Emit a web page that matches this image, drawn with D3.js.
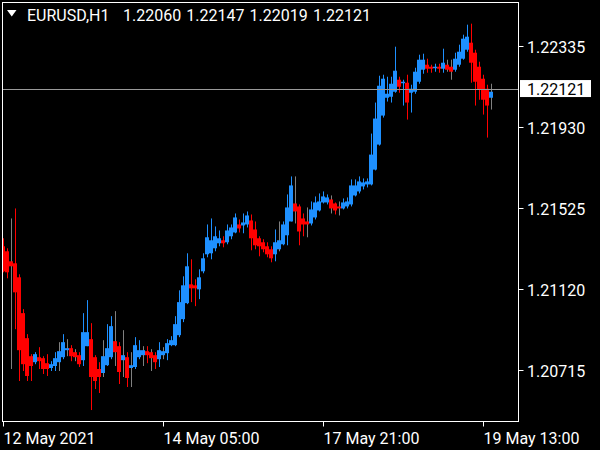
<!DOCTYPE html>
<html><head><meta charset="utf-8">
<script src="https://cdn.jsdelivr.net/npm/d3@7"></script>
<style>html,body{margin:0;padding:0;background:#000;}svg{display:block;}</style>
</head><body>
<script>
const opens = [1.21333,1.21308,1.21258,1.21248,1.21178,1.20999,1.20874,1.20784,1.20754,1.20779,
1.20774,1.20749,1.20725,1.20735,1.20754,1.20779,1.20814,1.20824,1.20804,1.20789,
1.20764,1.20834,1.20869,1.20779,1.20720,1.20700,1.20739,1.20779,1.20859,1.20834,
1.20764,1.20779,1.20725,1.20730,1.20779,1.20789,1.20809,1.20804,1.20789,1.20769,
1.20789,1.20799,1.20839,1.20839,1.20889,1.20969,1.21049,1.21143,1.21138,1.21118,
1.21208,1.21293,1.21298,1.21323,1.21348,1.21363,1.21353,1.21383,1.21402,1.21442,
1.21437,1.21442,1.21462,1.21417,1.21373,1.21353,1.21333,1.21318,1.21293,1.21318,
1.21343,1.21388,1.21457,1.21547,1.21532,1.21472,1.21457,1.21447,1.21477,1.21512,
1.21552,1.21552,1.21567,1.21547,1.21532,1.21522,1.21532,1.21542,1.21587,1.21607,
1.21632,1.21642,1.21642,1.21716,1.21841,1.21986,1.22075,1.22080,1.22105,1.22165,
1.22150,1.22150,1.22100,1.22105,1.22155,1.22215,1.22240,1.22230,1.22225,1.22230,
1.22220,1.22240,1.22230,1.22215,1.22240,1.22270,1.22315,1.22350,1.22300,1.22230,
1.22170,1.22120,1.22075];
const closes = [1.21208,1.21203,1.21233,1.21103,1.20814,1.20744,1.20685,1.20735,1.20794,1.20759,
1.20720,1.20720,1.20744,1.20774,1.20809,1.20854,1.20824,1.20784,1.20779,1.20744,
1.20904,1.20904,1.20680,1.20660,1.20680,1.20784,1.20824,1.20934,1.20804,1.20705,
1.20789,1.20675,1.20739,1.20839,1.20814,1.20814,1.20789,1.20774,1.20754,1.20814,
1.20809,1.20849,1.20864,1.20944,1.21054,1.21138,1.21233,1.21123,1.21123,1.21178,
1.21273,1.21378,1.21363,1.21383,1.21373,1.21348,1.21412,1.21427,1.21477,1.21422,
1.21452,1.21487,1.21373,1.21338,1.21333,1.21318,1.21293,1.21273,1.21353,1.21363,
1.21442,1.21527,1.21637,1.21507,1.21407,1.21442,1.21442,1.21517,1.21552,1.21557,
1.21582,1.21577,1.21522,1.21512,1.21522,1.21552,1.21557,1.21637,1.21637,1.21657,
1.21652,1.21657,1.21791,1.21971,1.22135,1.22170,1.22095,1.22145,1.22210,1.22130,
1.22155,1.22051,1.22120,1.22205,1.22265,1.22265,1.22220,1.22220,1.22230,1.22220,
1.22250,1.22215,1.22205,1.22270,1.22305,1.22370,1.22380,1.22250,1.22155,1.22115,
1.22065,1.22036,1.22105];
const highs = [1.21373,1.21323,1.21472,1.21522,1.21193,1.21019,1.20894,1.20794,1.20804,1.20829,
1.20784,1.20794,1.20759,1.20804,1.20854,1.20894,1.20869,1.20839,1.20819,1.20804,
1.20999,1.21064,1.20949,1.20789,1.20754,1.20864,1.20944,1.20984,1.21009,1.20854,
1.20914,1.20804,1.20804,1.20879,1.20864,1.20834,1.20834,1.20819,1.20804,1.20854,
1.20829,1.20869,1.20884,1.20984,1.21113,1.21183,1.21298,1.21268,1.21168,1.21218,
1.21298,1.21442,1.21472,1.21432,1.21412,1.21383,1.21442,1.21442,1.21497,1.21467,
1.21497,1.21507,1.21492,1.21457,1.21383,1.21368,1.21353,1.21333,1.21417,1.21457,
1.21457,1.21592,1.21682,1.21682,1.21542,1.21497,1.21527,1.21557,1.21582,1.21597,
1.21607,1.21592,1.21587,1.21552,1.21557,1.21572,1.21577,1.21667,1.21667,1.21682,
1.21672,1.21672,1.21896,1.22051,1.22185,1.22190,1.22180,1.22180,1.22330,1.22180,
1.22165,1.22190,1.22140,1.22225,1.22290,1.22295,1.22270,1.22240,1.22245,1.22245,
1.22320,1.22265,1.22265,1.22300,1.22340,1.22390,1.22440,1.22445,1.22315,1.22255,
1.22190,1.22140,1.22145];
const lows = [1.21203,1.21173,1.20720,1.20919,1.20660,1.20710,1.20660,1.20660,1.20744,1.20720,
1.20695,1.20685,1.20710,1.20710,1.20710,1.20769,1.20784,1.20759,1.20759,1.20730,
1.20735,1.20834,1.20515,1.20620,1.20600,1.20680,1.20735,1.20769,1.20735,1.20645,
1.20680,1.20630,1.20630,1.20720,1.20769,1.20735,1.20749,1.20710,1.20720,1.20730,
1.20769,1.20764,1.20834,1.20834,1.20879,1.20954,1.21044,1.21054,1.21034,1.21069,
1.21198,1.21278,1.21268,1.21308,1.21333,1.21328,1.21343,1.21368,1.21398,1.21402,
1.21398,1.21427,1.21313,1.21318,1.21283,1.21303,1.21278,1.21253,1.21258,1.21308,
1.21338,1.21338,1.21457,1.21447,1.21338,1.21383,1.21378,1.21437,1.21467,1.21507,
1.21547,1.21542,1.21497,1.21492,1.21487,1.21517,1.21522,1.21532,1.21582,1.21597,
1.21617,1.21627,1.21637,1.21712,1.21836,1.21976,1.22056,1.22051,1.22100,1.22100,
1.22036,1.21966,1.22001,1.22095,1.22145,1.22195,1.22200,1.22200,1.22205,1.22200,
1.22200,1.22205,1.22165,1.22205,1.22230,1.22265,1.22305,1.22150,1.22036,1.22065,
1.21991,1.21876,1.22016];
// bars whose thin high-low line shows the neutral (underlying bar) colour
const neutralWickBars = [2,14,16,18,25,28,30,32,35,37,40,69,73,76,82,84,111,112,122];
const priceTicks = [1.22335, 1.21930, 1.21525, 1.21120, 1.20715];
const timeLabels = ["12 May 2021", "14 May 05:00", "17 May 21:00", "19 May 13:00"];
const timeLabelIdx = [0, 40, 80, 120];
const symbol = "EURUSD,H1";
const ohlcHeader = ["1.22060", "1.22147", "1.22019", "1.22121"];
const bidPrice = 1.22121;

const W = 600, H = 450;
const plot = {x0: 2.5, y0: 2.5, x1: 518.5, y1: 421.5};
const BLUE = "#1E90FF", RED = "#FF0000", GRAY = "#808080";
const FONT = "Roboto, 'Liberation Sans', sans-serif";

const neutral = new Set(neutralWickBars);
const bars = opens.map((o, i) => ({i, o, c: closes[i], h: highs[i], l: lows[i]}));

const x = d3.scaleLinear().domain([0, 120]).range([3, 483]);
const y = d3.scaleLinear().domain([1.20715, 1.22335]).range([370, 45.7]);
const step = x(1) - x(0);

const svg = d3.select("body").append("svg").attr("width", W).attr("height", H);
svg.append("rect").attr("width", W).attr("height", H).attr("fill", "#000");

svg.append("defs").append("clipPath").attr("id", "clip")
  .append("rect").attr("x", plot.x0 + 0.5).attr("y", plot.y0 + 0.5)
  .attr("width", plot.x1 - plot.x0 - 1).attr("height", plot.y1 - plot.y0 - 1);

const g = svg.append("g").attr("clip-path", "url(#clip)");
const col = d => d.c >= d.o ? BLUE : RED;

g.selectAll("line.wick").data(bars).join("line")
  .attr("class", "wick")
  .attr("x1", d => Math.round(x(d.i)) + 0.5).attr("x2", d => Math.round(x(d.i)) + 0.5)
  .attr("y1", d => y(d.h)).attr("y2", d => y(d.l))
  .attr("stroke", d => neutral.has(d.i) ? GRAY : col(d)).attr("stroke-width", 1);

g.selectAll("rect.body").data(bars).join("rect")
  .attr("class", "body")
  .attr("x", d => x(d.i) - step / 2).attr("width", step)
  .attr("y", d => Math.min(y(d.o), y(d.c)))
  .attr("height", d => Math.max(1.5, Math.abs(y(d.o) - y(d.c))))
  .attr("fill", col);

// bid line
g.append("line").attr("x1", plot.x0).attr("x2", plot.x1)
  .attr("y1", Math.round(y(bidPrice)) + 0.5).attr("y2", Math.round(y(bidPrice)) + 0.5)
  .attr("stroke", "#9a9a9a").attr("stroke-width", 1);

// frame
svg.append("rect").attr("x", plot.x0).attr("y", plot.y0)
  .attr("width", plot.x1 - plot.x0).attr("height", plot.y1 - plot.y0)
  .attr("fill", "none").attr("stroke", "#fff").attr("stroke-width", 1);

// price axis
const ya = svg.append("g");
priceTicks.forEach(p => {
  const yy = Math.round(y(p)) + 0.5;
  ya.append("line").attr("x1", plot.x1).attr("x2", plot.x1 + 5).attr("y1", yy).attr("y2", yy)
    .attr("stroke", "#fff");
  ya.append("text").attr("x", 527).attr("y", yy + 6).attr("fill", "#fff")
    .attr("font-family", FONT).attr("font-size", 16).text(p.toFixed(5));
});

// bid label
const by = y(bidPrice);
svg.append("rect").attr("x", 520).attr("y", by - 8.5).attr("width", 71).attr("height", 17).attr("fill", "#fff");
svg.append("text").attr("x", 527).attr("y", by + 6).attr("fill", "#000")
  .attr("font-family", FONT).attr("font-size", 16).text(bidPrice.toFixed(5));

// time axis
timeLabelIdx.forEach((idx, k) => {
  const xx = Math.round(x(idx)) + 0.5;
  svg.append("line").attr("x1", xx).attr("x2", xx).attr("y1", plot.y1).attr("y2", plot.y1 + 5)
    .attr("stroke", "#fff");
  svg.append("text").attr("x", xx).attr("y", 443.5).attr("fill", "#fff")
    .attr("font-family", FONT).attr("font-size", 16).text(timeLabels[k]);
});

// header
svg.append("path").attr("d", "M7,10 L16.5,10 L11.75,16.5 Z").attr("fill", "#fff");
svg.append("text").attr("x", 27).attr("y", 20.5).attr("fill", "#fff")
  .attr("font-family", FONT).attr("font-size", 16).text(symbol);
ohlcHeader.forEach((v, k) => {
  svg.append("text").attr("x", 123 + 63.3 * k).attr("y", 20.5).attr("fill", "#fff")
    .attr("font-family", FONT).attr("font-size", 16).text(v);
});
</script>
</body></html>
